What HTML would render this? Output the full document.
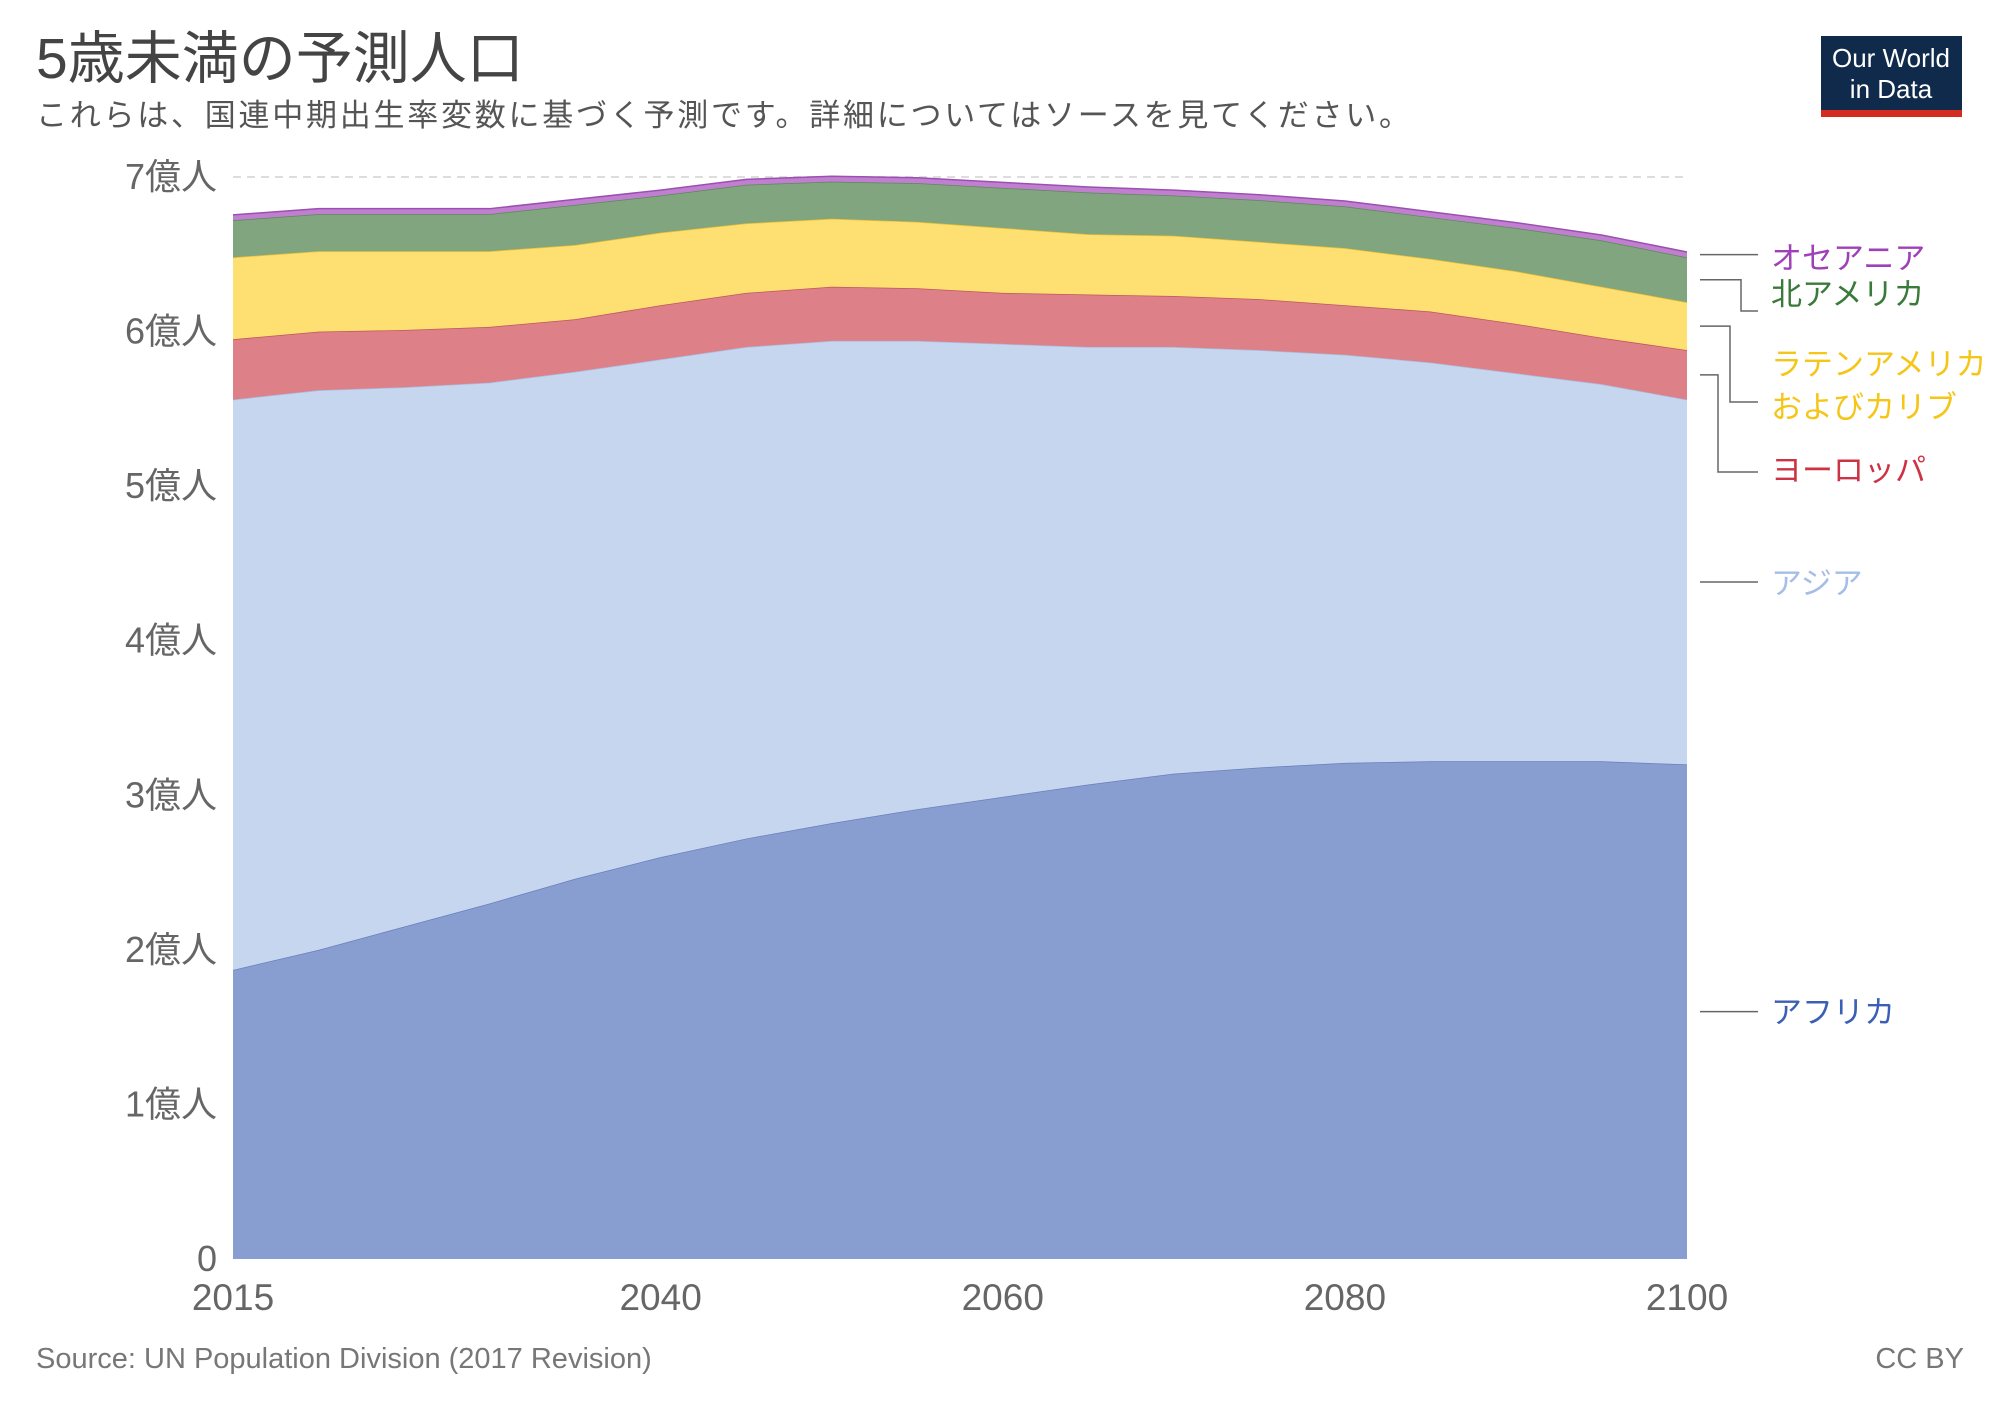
<!DOCTYPE html>
<html><head><meta charset="utf-8"><style>
html,body{margin:0;padding:0;background:#fff}
svg text{font-family:"Liberation Sans","Noto Sans CJK JP",sans-serif}
</style></head><body>
<svg id="chart" width="2000" height="1412" viewBox="0 0 2000 1412" xmlns="http://www.w3.org/2000/svg">
<text x="36" y="78" font-size="57" fill="#444">5歳未満の予測人口</text>
<text x="36" y="126" font-size="31" fill="#555" textLength="1374" lengthAdjust="spacing">これらは、国連中期出生率変数に基づく予測です。詳細についてはソースを見てください。</text>
<g>
<rect x="1821" y="36" width="141" height="74" fill="#0f2a4a"/>
<rect x="1821" y="110" width="141" height="7" fill="#d42b21"/>
<text x="1891" y="67" font-size="26" fill="#fff" text-anchor="middle">Our World</text>
<text x="1891" y="98" font-size="26" fill="#fff" text-anchor="middle">in Data</text>
</g>
<g id="grid"></g>
<g id="areas"></g>
<g id="labels"></g>
<text x="36" y="1368" font-size="29" fill="#777">Source: UN Population Division (2017 Revision)</text>
<text x="1964" y="1368" font-size="29" fill="#777" text-anchor="end">CC BY</text>
</svg>
<script>
const years=[2015,2020,2025,2030,2035,2040,2045,2050,2055,2060,2065,2070,2075,2080,2085,2090,2095,2100];
const africa=[1.87,2.0,2.15,2.30,2.46,2.60,2.72,2.82,2.91,2.99,3.07,3.14,3.18,3.21,3.22,3.22,3.22,3.20];
const asia=[3.69,3.62,3.49,3.37,3.28,3.22,3.18,3.12,3.03,2.93,2.83,2.76,2.70,2.64,2.58,2.51,2.44,2.36];
const europe=[0.39,0.38,0.37,0.36,0.34,0.35,0.35,0.35,0.34,0.33,0.34,0.33,0.33,0.32,0.33,0.32,0.30,0.32];
const latin=[0.53,0.52,0.51,0.49,0.48,0.47,0.45,0.44,0.43,0.42,0.39,0.39,0.37,0.37,0.34,0.34,0.33,0.31];
const northAmerica=[0.24,0.24,0.24,0.24,0.26,0.24,0.25,0.24,0.25,0.26,0.27,0.26,0.27,0.27,0.27,0.28,0.30,0.29];
const oceania=[0.035,0.035,0.035,0.035,0.035,0.035,0.035,0.035,0.035,0.035,0.035,0.035,0.035,0.035,0.035,0.035,0.035,0.035];
const yTicks=[0,1,2,3,4,5,6,7];
const yTickLabels=["0","1億人","2億人","3億人","4億人","5億人","6億人","7億人"];
const xTicks=[2015,2040,2060,2080,2100];

const X0=233,X1=1687,Y0=1259,Y7=177;
const x=v=>X0+(v-2015)/(2100-2015)*(X1-X0);
const y=v=>Y0-v/7*(Y0-Y7);
const NS="http://www.w3.org/2000/svg";
function mk(tag,attrs,parent){const e=document.createElementNS(NS,tag);for(const k in attrs)e.setAttribute(k,attrs[k]);parent.appendChild(e);return e;}
const grid=document.getElementById('grid');
yTicks.forEach((t,i)=>{
  if(t>0){const l=mk('line',{x1:X0,x2:X1,y1:y(t),y2:y(t),stroke:'#ddd','stroke-width':2,'stroke-dasharray':'8,6'},grid);
  
  }
  const tx=mk('text',{x:217,y:y(t)+12,'font-size':36,fill:'#666','text-anchor':'end'},grid);
  tx.textContent=yTickLabels[i];
  
  
});
xTicks.forEach(t=>{
  const tx=mk('text',{x:x(t),y:1310,'font-size':37,fill:'#666','text-anchor':'middle'},grid);
  tx.textContent=t;
  
  
});
const series=[
 {name:'africa',vals:africa,fill:'#889dd0',stroke:'#6a7fbf'},
 {name:'asia',vals:asia,fill:'#c6d6ee',stroke:'#a8bde0'},
 {name:'europe',vals:europe,fill:'#de8088',stroke:'#c05560'},
 {name:'latin-america',vals:latin,fill:'#fedf72',stroke:'#f0c030'},
 {name:'north-america',vals:northAmerica,fill:'#80a57f',stroke:'#5a8a5a'},
 {name:'oceania',vals:oceania,fill:'#c17fd0',stroke:'#9a50b0'}
];
const areas=document.getElementById('areas');
let base=years.map(()=>0);
const tops=[];
series.forEach(s=>{
  const top=base.map((b,i)=>b+s.vals[i]);
  let d='M'+years.map((yr,i)=>x(yr)+','+y(top[i])).join('L');
  for(let i=years.length-1;i>=0;i--)d+='L'+x(years[i])+','+y(base[i]);
  d+='Z';
  const p=mk('path',{d:d,fill:s.fill},areas);
  
  
  const ln=mk('path',{d:'M'+years.map((yr,i)=>x(yr)+','+y(top[i])).join('L'),fill:'none',stroke:s.stroke,'stroke-width':1.5},areas);
  
  
  tops.push({s:s,top:top,base:base});
  base=top;
});
const labels=document.getElementById('labels');
const legend=[
 {name:'oceania',text:['オセアニア'],color:'#a040b8',ly:258,ey:null,bx:1740},
 {name:'north-america',text:['北アメリカ'],color:'#3a7a3a',ly:294,ey:311,bx:1741},
 {name:'latin-america',text:['ラテンアメリカ','およびカリブ'],color:'#f5c518',ly:364,ey:402,bx:1730},
 {name:'europe',text:['ヨーロッパ'],color:'#cc3344',ly:470,ey:472,bx:1718},
 {name:'asia',text:['アジア'],color:'#a6bee6',ly:583,ey:null,bx:1740},
 {name:'africa',text:['アフリカ'],color:'#3b5fb5',ly:1012,ey:null,bx:1740}
];
legend.forEach(g=>{
  const t=tops[series.findIndex(s=>s.name===g.name)];
  const n=years.length-1;
  const sy=y((t.top[n]+t.base[n])/2);
  const ty=g.ey===null?sy:g.ey;
  const pl=mk('polyline',{points:`1700,${sy} ${g.bx},${sy} ${g.bx},${ty} 1758,${ty}`,fill:'none',stroke:'#666','stroke-width':1.5},labels);
  
  
  g.text.forEach((tx,j)=>{
    const e=mk('text',{x:1771,y:g.ly+11+j*43,'font-size':31,fill:g.color},labels);
    e.textContent=tx;
    
    
  });
});
</script>
</body></html>
